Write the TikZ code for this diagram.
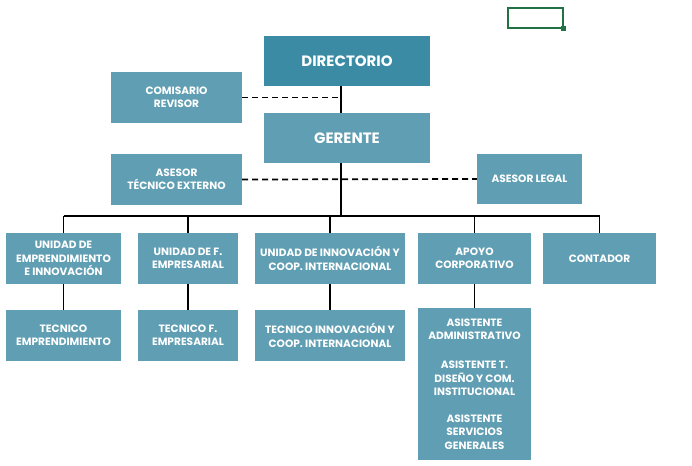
\documentclass[tikz,border=0pt]{standalone}
\usepackage{fontspec}
\setmainfont{Poppins}
\definecolor{boxblue}{HTML}{5F9EB3}
\definecolor{topblue}{HTML}{3B8BA4}
\definecolor{selgreen}{HTML}{217346}
\begin{document}
\begin{tikzpicture}[x=1pt, y=-1pt,
    unit/.style={fill=boxblue, text=white, font=\bfseries\fontsize{10.6}{13.3}\selectfont,
                 align=center, inner sep=0pt, minimum height=51pt},
    head/.style={unit, font=\bfseries\fontsize{15}{17}\selectfont, minimum width=166pt, minimum height=50pt},
    link/.style={line width=1.6pt},
    dashlink/.style={line width=1.7pt, dash pattern=on 6pt off 4pt}]
    \useasboundingbox (0,0) rectangle (692,465);

    \draw [selgreen, line width=1.5pt] (508,8) rectangle (563,28);
    \fill [selgreen] (561,26) rectangle (566,31);

    \node (dir) at (347,61) [head, fill=topblue] {DIRECTORIO};
    \node (ger) at (347,138) [head] {GERENTE};
    \node (com) at (176.5,97.5) [unit, minimum width=131pt] {COMISARIO\\REVISOR};
    \node (ate) at (176.5,179.5) [unit, minimum width=131pt] {ASESOR\\TÉCNICO EXTERNO};
    \node (leg) at (529.5,179) [unit, minimum width=105pt, minimum height=50pt] {ASESOR LEGAL};

    \node (u1)  at (63.5,258.5)  [unit, minimum width=115pt] {UNIDAD DE\\EMPRENDIMIENTO\\E INNOVACIÓN};
    \node (u2)  at (188,258.5)   [unit, minimum width=100pt] {UNIDAD DE F.\\EMPRESARIAL};
    \node (u3)  at (330,258.5)   [unit, minimum width=150pt] {UNIDAD DE INNOVACIÓN Y\\COOP. INTERNACIONAL};
    \node (apo) at (474.5,258.5) [unit, minimum width=113pt] {APOYO\\CORPORATIVO};
    \node (con) at (599.5,258.5) [unit, minimum width=113pt] {CONTADOR};

    \node (t1) at (63.5,335.5) [unit, minimum width=115pt] {TECNICO\\EMPRENDIMIENTO};
    \node (t2) at (188,335.5)  [unit, minimum width=100pt] {TECNICO F.\\EMPRESARIAL};
    \node (t3) at (330,335.5)  [unit, minimum width=150pt] {TECNICO INNOVACIÓN Y\\COOP. INTERNACIONAL};
    \node (asi) at (474.5,384) [unit, minimum width=113pt, minimum height=152pt]
        {ASISTENTE\\ADMINISTRATIVO\\[16pt]ASISTENTE T.\\DISEÑO Y COM.\\INSTITUCIONAL\\[14pt]ASISTENTE\\SERVICIOS\\GENERALES};

    % trunk and bus
    \coordinate (trunk) at (341,0);
    \coordinate (bus) at (0,216);
    \draw [link] (trunk |- dir.south) -- (trunk |- ger.north);
    \draw [link] (trunk |- ger.south) -- (trunk |- bus);
    \draw [dashlink] (com.east) -- (trunk |- com.east);
    \draw [dashlink] (ate.east) -- (leg.west);

    \draw [link] (u1.north |- bus) -- (con.north |- bus);
    \foreach \n in {u1,u2,u3,apo,con}
        \draw [link] (\n.north |- bus) -- (\n.north);

    \draw [link] (u1) -- (t1);
    \draw [link] (u2) -- (t2);
    \draw [link] (u3) -- (t3);
    \draw [link] (apo) -- (asi);
\end{tikzpicture}
\end{document}
